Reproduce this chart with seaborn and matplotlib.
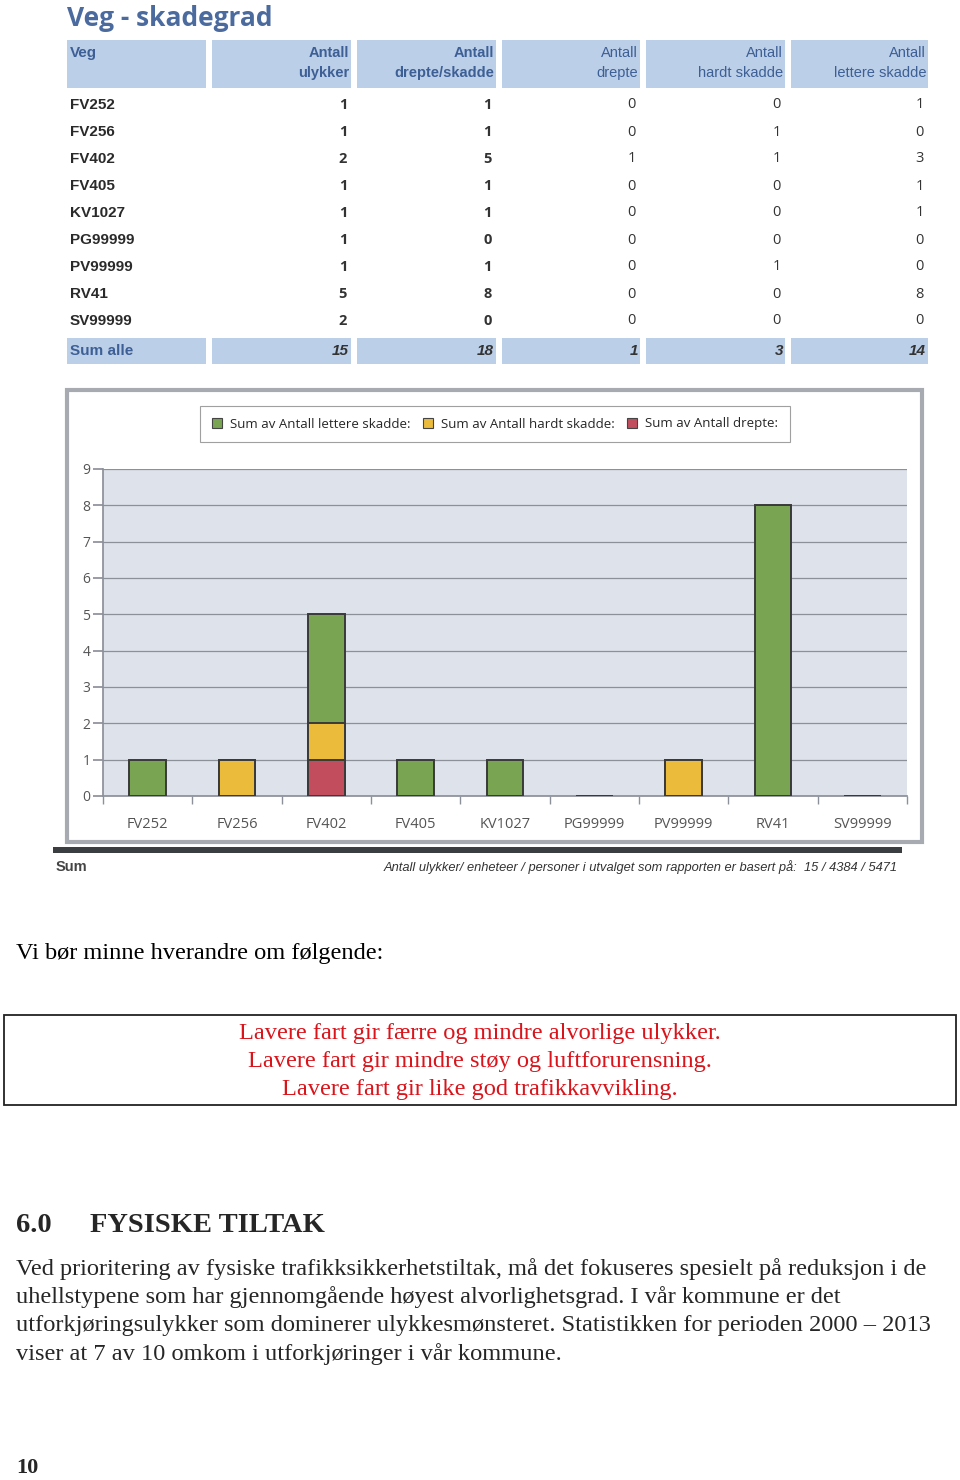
import matplotlib
matplotlib.use("Agg")
import matplotlib.pyplot as plt
from matplotlib.patches import Rectangle, Patch
import seaborn as sns
import pandas as pd
import numpy as np

# ---------------- data ----------------
title = "Veg - skadegrad"
roads = ["FV252", "FV256", "FV402", "FV405", "KV1027", "PG99999", "PV99999", "RV41", "SV99999"]
antall_ulykker = [1, 1, 2, 1, 1, 1, 1, 5, 2]
antall_drepte_skadde = [1, 1, 5, 1, 1, 0, 1, 8, 0]
antall_drepte = [0, 0, 1, 0, 0, 0, 0, 0, 0]
antall_hardt = [0, 1, 1, 0, 0, 0, 1, 0, 0]
antall_lettere = [1, 0, 3, 1, 1, 0, 0, 8, 0]
sum_alle = [15, 18, 1, 3, 14]
headers = [("Veg", ""), ("Antall", "ulykker"), ("Antall", "drepte/skadde"),
           ("Antall", "drepte"), ("Antall", "hardt skadde"), ("Antall", "lettere skadde")]
legend_labels = ["Sum av Antall lettere skadde:", "Sum av Antall hardt skadde:", "Sum av Antall drepte:"]
y_ticks = list(range(0, 10))
footer_left = "Sum"
footer_right = "Antall ulykker/ enheteer / personer i utvalget som rapporten er basert på:  15 / 4384 / 5471"
intro = "Vi bør minne hverandre om følgende:"
box_lines = ["Lavere fart gir færre og mindre alvorlige ulykker.",
             "Lavere fart gir mindre støy og luftforurensning.",
             "Lavere fart gir like god trafikkavvikling."]
section_no = "6.0"
section_title = "FYSISKE TILTAK"
paragraph = ["Ved prioritering av fysiske trafikksikkerhetstiltak, må det fokuseres spesielt på reduksjon i de",
             "uhellstypene som har gjennomgående høyest alvorlighetsgrad. I vår kommune er det",
             "utforkjøringsulykker som dominerer ulykkesmønsteret. Statistikken for perioden 2000 – 2013",
             "viser at 7 av 10 omkom i utforkjøringer i vår kommune."]
page_no = "10"

GREEN = "#79a552"
YELLOW = "#ebbc3c"
RED = "#c14d5d"
HEAD_BG = "#bccfe8"
HEAD_FG = "#3d5f95"

sns.set_theme(style="white")
plt.rcParams["font.family"] = ["Liberation Sans", "DejaVu Sans"]

W, H = 960, 1480
fig = plt.figure(figsize=(W / 100, H / 100), dpi=100)

def fx(x):
    return x / W

def fy(y):
    return 1 - y / H

def ftext(x, y, s, **kw):
    fig.text(fx(x), fy(y), s, **kw)

NARROW = ["Liberation Sans", "DejaVu Sans"]

# ---------------- table ----------------
ftext(67, 19, title, fontsize=19, fontweight="bold", color="#4b6b9f",
      va="center", ha="left", family=["Open Sans", "DejaVu Sans"])

col_edges = [(67, 206), (212, 351), (357, 496), (502, 640), (646, 785), (791, 928)]
for i, (x0, x1) in enumerate(col_edges):
    fig.patches.append(Rectangle((fx(x0), fy(88)), fx(x1 - x0), (88 - 40) / H,
                                 transform=fig.transFigure, facecolor=HEAD_BG, edgecolor="none"))
    fig.patches.append(Rectangle((fx(x0), fy(364)), fx(x1 - x0), (364 - 338) / H,
                                 transform=fig.transFigure, facecolor=HEAD_BG, edgecolor="none"))
    h1, h2 = headers[i]
    bold = "bold" if i < 3 else "normal"
    if i == 0:
        ftext(x0 + 3, 53, h1, fontsize=11, fontweight="bold", color=HEAD_FG,
              ha="left", va="center", family=NARROW)
        ftext(x0 + 3, 351, "Sum alle", fontsize=11, fontweight="bold", color=HEAD_FG,
              ha="left", va="center", family=NARROW)
    else:
        ftext(x1 - 2, 53, h1, fontsize=10.5, fontweight=bold, color=HEAD_FG,
              ha="right", va="center", family=NARROW)
        ftext(x1 - 2, 73, h2, fontsize=10.5, fontweight=bold, color=HEAD_FG,
              ha="right", va="center", family=NARROW)
        ftext(x1 - 2, 351, str(sum_alle[i - 1]), fontsize=11, fontweight="bold",
              style="italic", color="#333333", ha="right", va="center", family=NARROW)

value_cols = [antall_ulykker, antall_drepte_skadde, antall_drepte, antall_hardt, antall_lettere]
for r, road in enumerate(roads):
    y = 105 + r * 27
    ftext(70, y, road, fontsize=11, fontweight="bold", color="#2a2a2a",
          ha="left", va="center", family=NARROW)
    for c, vals in enumerate(value_cols):
        x1 = col_edges[c + 1][1]
        ftext(x1 - 4, y, str(vals[r]), fontsize=10.5,
              fontweight="bold" if c < 2 else "normal", color="#333333",
              ha="right", va="center", family=["Open Sans", "DejaVu Sans"])

# ---------------- chart ----------------
fig.patches.append(Rectangle((fx(67), fy(842)), fx(922 - 67), (842 - 390) / H,
                             transform=fig.transFigure, facecolor="white",
                             edgecolor="#a7abb1", linewidth=3, zorder=-5))

ax = fig.add_axes([fx(103), fy(796), fx(907 - 103), (796 - 469) / H])
ax.set_zorder(5)
ax.set_facecolor("#dee2ea")

df = pd.DataFrame({"Veg": roads, "lettere": antall_lettere,
                   "hardt": antall_hardt, "drepte": antall_drepte})
df["top"] = df["lettere"] + df["hardt"] + df["drepte"]
df["mid"] = df["hardt"] + df["drepte"]

for col, colr in [("top", GREEN), ("mid", YELLOW), ("drepte", RED)]:
    sns.barplot(data=df, x="Veg", y=col, order=roads, color=colr, ax=ax,
                width=0.41, edgecolor="#3a3a3a", linewidth=1.4, saturation=1, zorder=3)

ax.set_ylim(0, 9)
ax.set_xlim(-0.5, len(roads) - 0.5)
ax.set_yticks(y_ticks)
ax.yaxis.grid(True, color="#8c9099", linewidth=0.9)
ax.set_axisbelow(True)
ax.set_xlabel("")
ax.set_ylabel("")
for s in ["top", "right"]:
    ax.spines[s].set_visible(False)
ax.spines["left"].set_color("#8c9099")
ax.spines["bottom"].set_color("#8c9099")
ax.tick_params(axis="y", left=True, length=7, color="#8c9099", labelsize=10,
               labelcolor="#555555", pad=2)
ax.tick_params(axis="x", bottom=False, labelsize=10.5, labelcolor="#555555", pad=9)
ax.set_xticks(np.arange(-0.5, len(roads), 1.0), minor=True)
ax.tick_params(axis="x", which="minor", bottom=True, length=6, color="#8c9099")
for lbl in ax.get_xticklabels() + ax.get_yticklabels():
    lbl.set_family(["Open Sans", "DejaVu Sans"])

handles = [Patch(facecolor=c, edgecolor="#444444", linewidth=0.8) for c in (GREEN, YELLOW, RED)]
leg = fig.legend(handles, legend_labels, loc="center", bbox_to_anchor=(fx(495), fy(424)),
                 ncol=3, frameon=True, fancybox=False, edgecolor="#888888",
                 prop={"family": ["Open Sans", "DejaVu Sans"], "size": 9.5},
                 handlelength=0.8, handleheight=0.8, handletextpad=0.6, columnspacing=0.9,
                 borderpad=0.9)
leg.get_frame().set_linewidth(0.8)

fig.patches.append(Rectangle((fx(53), fy(853)), fx(902 - 53), 6 / H,
                             transform=fig.transFigure, facecolor="#3b3e40", edgecolor="none"))
ftext(56, 867, footer_left, fontsize=10.5, color="#444444", ha="left", va="center",
      fontweight="bold", family=NARROW)
ftext(898, 867, footer_right, fontsize=9.3, color="#333333", ha="right", va="center",
      style="italic", family=NARROW)

# ---------------- text below ----------------
SERIF = ["Liberation Serif", "DejaVu Serif"]
ftext(16, 953, intro, fontsize=17.6, color="black", ha="left", va="center", family=SERIF)

fig.patches.append(Rectangle((fx(4), fy(1105)), fx(956 - 4), (1105 - 1015) / H,
                             transform=fig.transFigure, facecolor="white",
                             edgecolor="#222222", linewidth=1.3, zorder=-5))
for i, line in enumerate(box_lines):
    ftext(480, 1033 + i * 28, line, fontsize=17.6, color="#d9141b", ha="center",
          va="center", family=SERIF)

ftext(16, 1226, section_no, fontsize=20.5, fontweight="bold", ha="left", va="center", family=SERIF)
ftext(90, 1226, section_title, fontsize=20.5, fontweight="bold", ha="left", va="center", family=SERIF)
for i, line in enumerate(paragraph):
    ftext(16, 1269 + i * 28.4, line, fontsize=17.6, ha="left", va="center", family=SERIF)

ftext(16, 1468, page_no, fontsize=16, fontweight="bold", ha="left", va="center", family=SERIF)

fig.savefig("out.png", dpi=100)
